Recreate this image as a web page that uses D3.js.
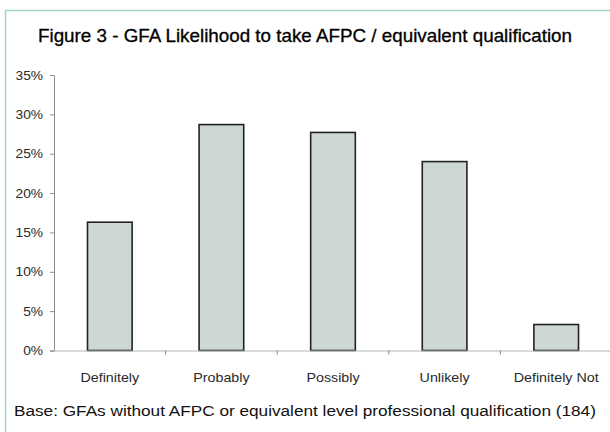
<!DOCTYPE html>
<html>
<head>
<meta charset="utf-8">
<script src="https://cdn.jsdelivr.net/npm/d3@7"></script>
<style>
  html, body { margin: 0; padding: 0; background: #fff; }
  svg { display: block; font-family: "Liberation Sans", Arial, Helvetica, sans-serif; }
</style>
</head>
<body>
<svg id="chart" width="610" height="432"></svg>
<script>
// Likelihood categories and share of respondents (%)
const categories = ["Definitely", "Probably", "Possibly", "Unlikely", "Definitely Not"];
const shares = [16.3, 28.7, 27.7, 24.0, 3.3];
const yTicks = [0, 5, 10, 15, 20, 25, 30, 35];
const titleText = "Figure 3 - GFA Likelihood to take AFPC / equivalent qualification";
const baseText = "Base: GFAs without AFPC or equivalent level professional qualification (184)";

// Wide-set lettering: glyphs are widened slightly around their anchor point
const WIDEN = 1.1;

const svg = d3.select("#chart");

// Panel frame (open on the right and bottom)
svg.append("path")
  .attr("d", "M5.5,432 L5.5,10.5 L610,10.5")
  .attr("fill", "none")
  .attr("stroke", "#a3d2c4")
  .attr("stroke-width", 1.5);

function label(parent, x0, y0, txt, size, anchor, widen) {
  return parent.append("text")
    .attr("transform", `translate(${x0},${y0}) scale(${widen},1)`)
    .attr("text-anchor", anchor)
    .attr("font-size", size)
    .text(txt);
}

label(svg, 305, 42, titleText, 17.5, "middle", 1.075)
  .attr("fill", "#000")
  .attr("stroke", "#000")
  .attr("stroke-width", 0.3);

const x = d3.scaleBand()
  .domain(categories)
  .range([54, 612])
  .paddingInner(0.6)
  .paddingOuter(0.3);

const y = d3.scaleLinear().domain([0, 35]).range([350.5, 75]);

// Bars
svg.append("g").selectAll("rect")
  .data(categories)
  .join("rect")
  .attr("x", d => x(d))
  .attr("y", (d, i) => y(shares[i]))
  .attr("width", x.bandwidth())
  .attr("height", (d, i) => y(0) - y(shares[i]))
  .attr("fill", "#cdd8d5")
  .attr("stroke", "#222")
  .attr("stroke-width", 1.6);

// Y axis
const yAxis = d3.axisLeft(y)
  .tickValues(yTicks)
  .tickFormat(d => d + "%")
  .tickSize(4)
  .tickPadding(7);
const gy = svg.append("g").attr("transform", "translate(54,0)").call(yAxis);
gy.select(".domain").attr("stroke", "#8a8a8a");
gy.selectAll(".tick line").attr("stroke", "#8a8a8a");
gy.selectAll(".tick text")
  .attr("font-size", 12.5)
  .attr("fill", "#2a2a2a")
  .attr("font-family", "'Liberation Sans', Arial, sans-serif")
  .attr("transform", `translate(-11,0) scale(${WIDEN},1)`)
  .attr("x", 0);

// X axis: baseline with boundary ticks between categories
const step = x.step();
const boundaries = d3.range(categories.length).map(i => 54 + i * step);
svg.append("line")
  .attr("x1", 54).attr("x2", 610)
  .attr("y1", y(0) + 0.5).attr("y2", y(0) + 0.5)
  .attr("stroke", "#b0b8b6").attr("stroke-width", 1.2);
svg.append("g").selectAll("line")
  .data(boundaries.slice(1))
  .join("line")
  .attr("x1", d => d).attr("x2", d => d)
  .attr("y1", y(0)).attr("y2", y(0) + 4)
  .attr("stroke", "#8a8a8a");

const gx = svg.append("g").attr("fill", "#2a2a2a");
categories.forEach(c => {
  label(gx, x(c) + x.bandwidth() / 2, 382, c, 13, "middle", WIDEN);
});

label(svg, 14, 416, baseText, 15.5, "start", 1.11).attr("fill", "#111");
</script>
</body>
</html>
